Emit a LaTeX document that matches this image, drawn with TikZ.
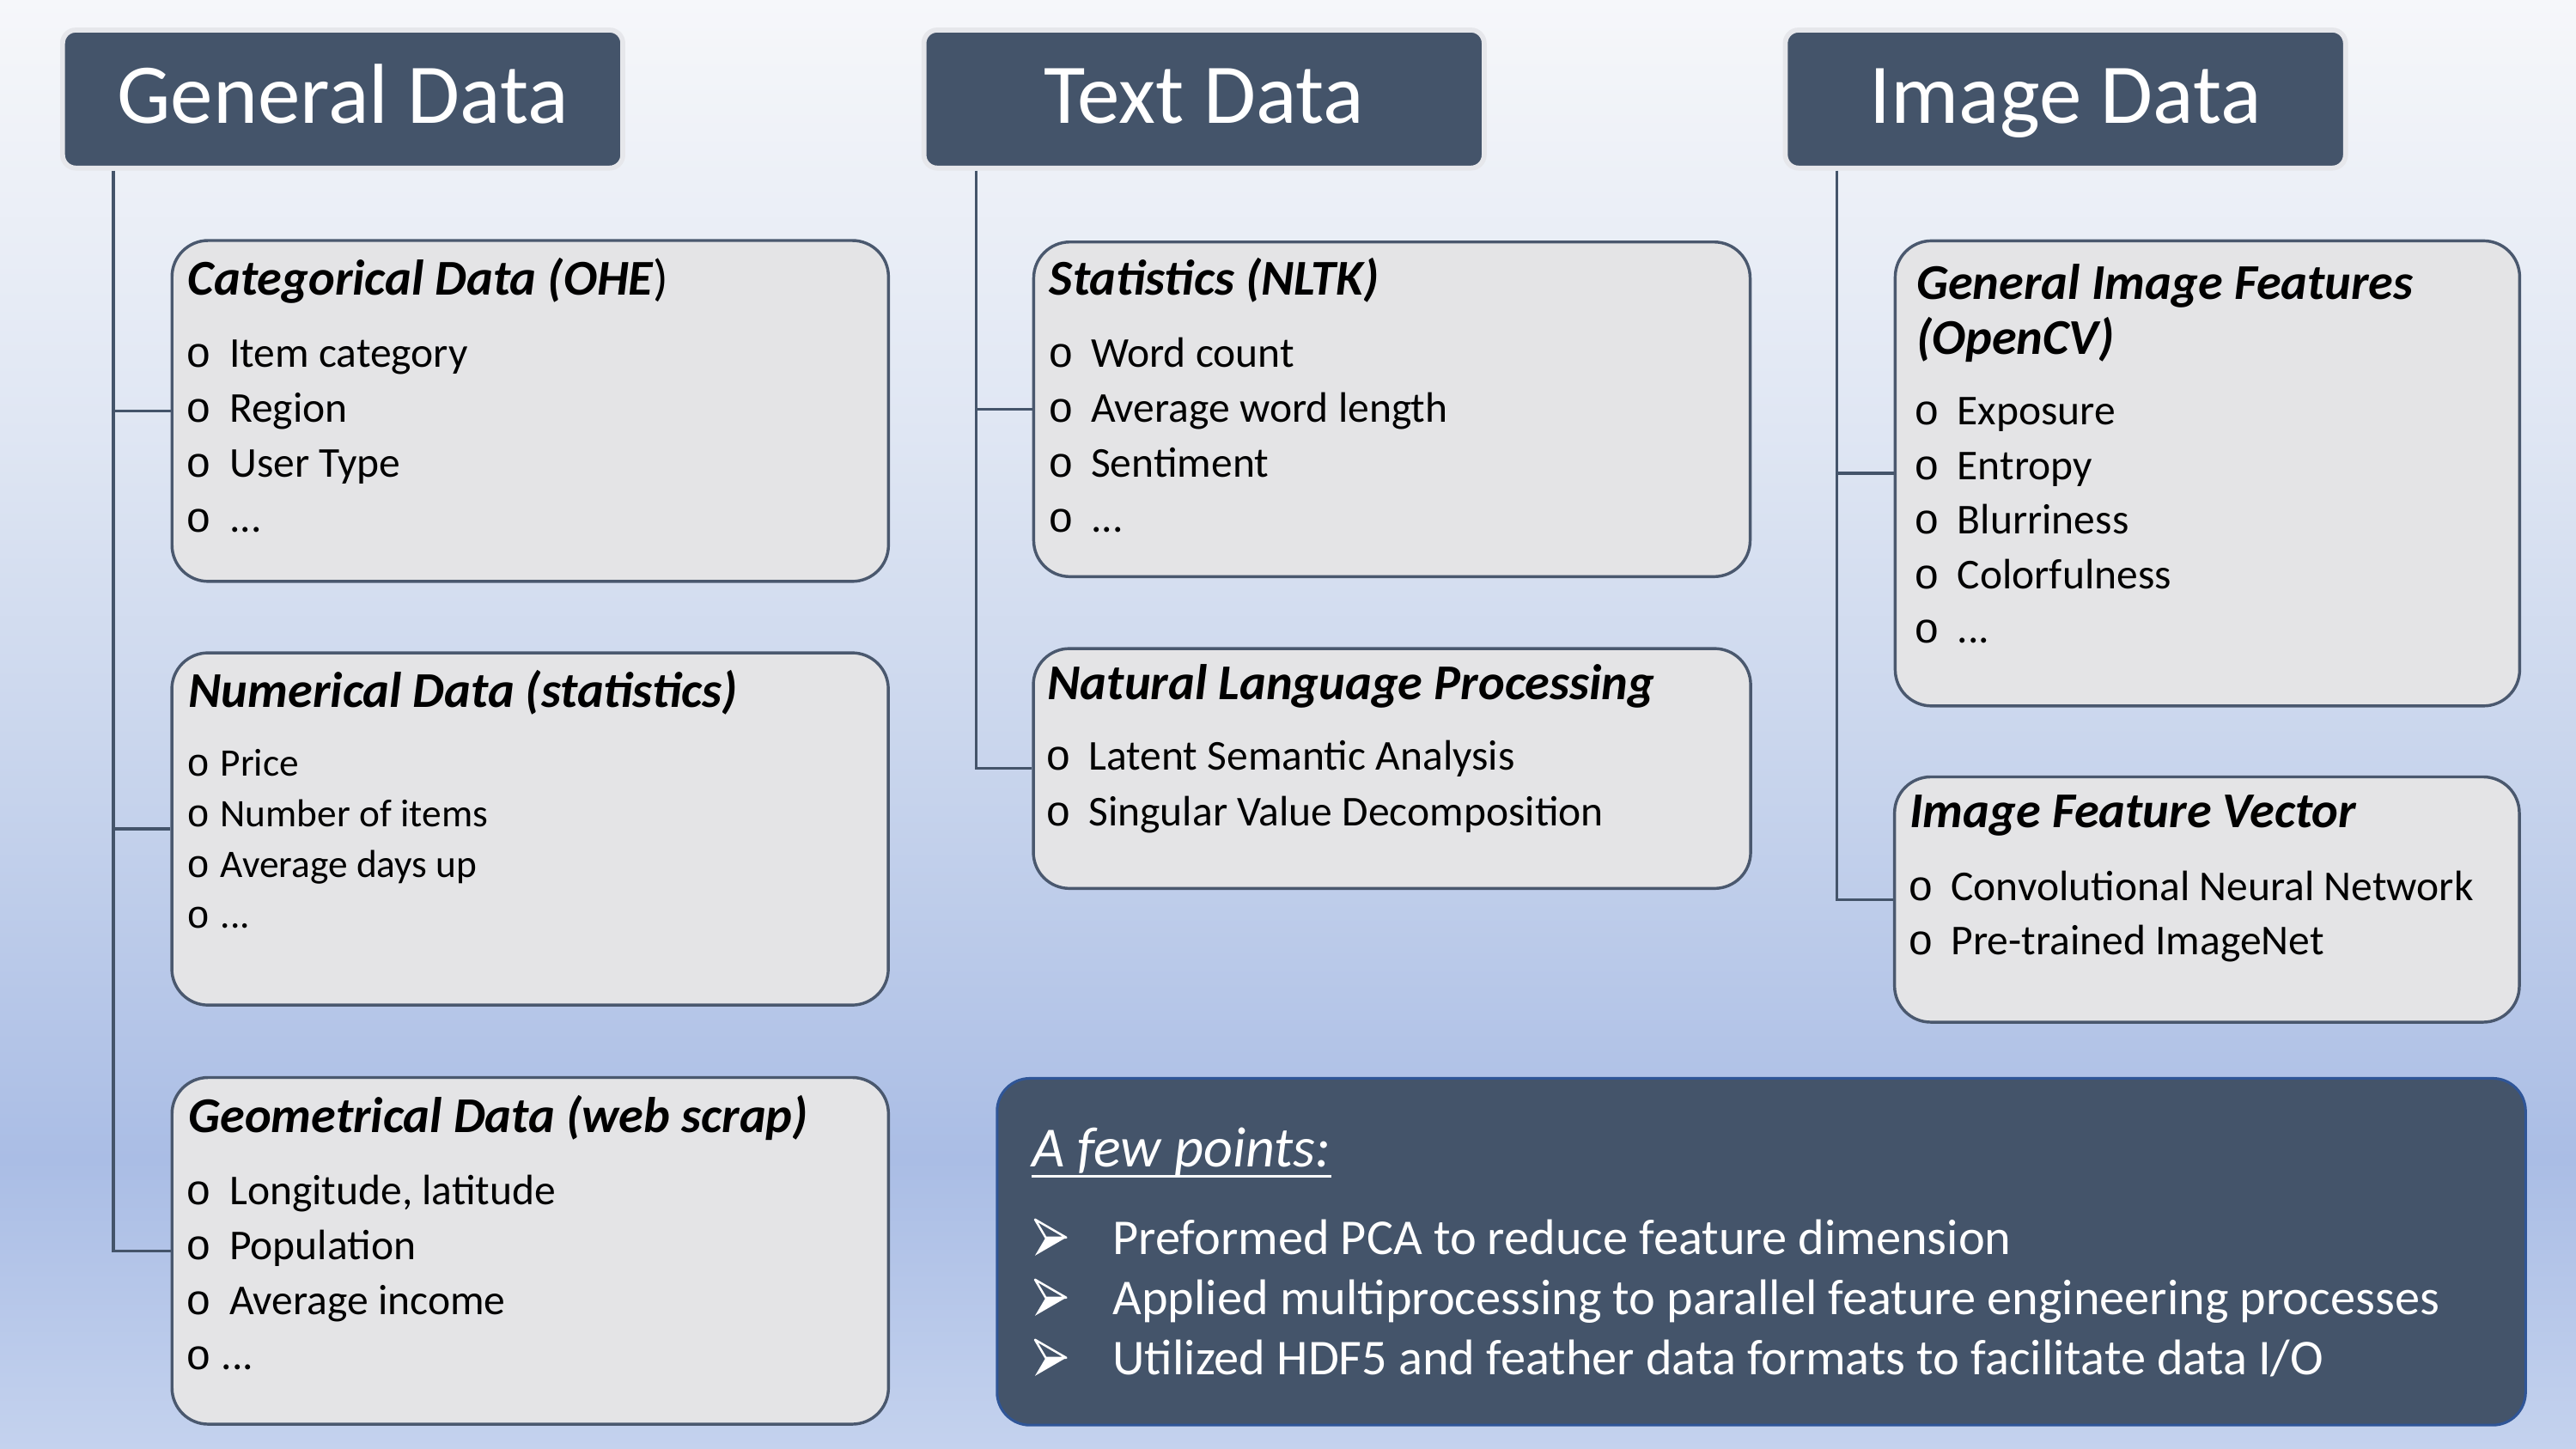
\documentclass[tikz,border=0pt]{standalone}
\usepackage{fontspec}
\setmainfont{Carlito}
\newfontfamily\bulletfont{Liberation Mono}
\usetikzlibrary{calc}

\definecolor{slate}{HTML}{44546A}
\definecolor{hdrrim}{HTML}{E6E7EB}
\definecolor{cardfill}{HTML}{E4E4E6}
\definecolor{cardrim}{HTML}{4A586E}
\definecolor{ptrim}{HTML}{2F5597}
\definecolor{bgtop}{HTML}{F6F7FA}
\definecolor{bgup}{HTML}{DFE6F3}
\definecolor{bgmid}{HTML}{C6D3EC}
\definecolor{bgdeep}{HTML}{AABDE5}
\definecolor{bgbot}{HTML}{C4D2EE}

% page background fade (25bp = bottom edge, 75bp = top edge)
\pgfdeclareverticalshading{bgfade}{100bp}{%
  color(0bp)=(bgbot); color(25bp)=(bgbot); color(35bp)=(bgdeep);
  color(47.5bp)=(bgmid); color(60bp)=(bgup); color(75bp)=(bgtop); color(100bp)=(bgtop)}

% three full stops as one token, so list loops do not read them as a range
\newcommand\moredots{...}

\tikzset{
  hdr/.style={rectangle, rounded corners=8pt, fill=slate, draw=hdrrim, line width=3pt,
    minimum width=341pt, minimum height=84pt, anchor=north west, inner sep=0pt,
    text=white, font=\fontsize{51.8}{62}\selectfont, text height=36pt, text depth=6.6pt},
  card/.style={rectangle, rounded corners=22pt, fill=cardfill, draw=cardrim,
    line width=1.8pt, anchor=north west, inner sep=0pt},
  ttl/.style={font=\fontsize{30.5}{36}\selectfont\bfseries\itshape, anchor=base west, inner sep=0pt},
  itm/.style={font=\fontsize{#1}{#1}\selectfont, anchor=base west, inner sep=0pt},
  itm/.default=25.8,
  bul/.style={font=\fontsize{#1}{#1}\bulletfont, anchor=base west, inner sep=0pt},
  bul/.default=25.8,
  conn/.style={draw=slate, line width=1.8pt},
  pttext/.style={font=\fontsize{30.5}{36}\selectfont, text=white, anchor=base west, inner sep=0pt},
  arrowhd/.pic={
    \fill[white] (6.5,0) -- (19,0) -- (0,11) -- cycle;
    \draw[white, line width=1.3pt, line join=round] (0,-11) -- (19,0) -- (6.5,0) -- cycle;
  }
}

% #1 name, #2 bullet x, #3 text x, #4 first baseline, #5 line step, #6 font size, #7 entries
\newcommand\cardlist[7]{%
  \foreach \txt [count=\k] in {#7} {
    \node[bul=#6] (#1-b\k) at ({#2},{#4+#5*(\k-1)}) {o};
    \node[itm=#6] (#1-\k) at ({#3},{#4+#5*(\k-1)}) {\txt};
  }}

\begin{document}
\begin{tikzpicture}[x=1pt,y=-1pt]
\useasboundingbox (0,0) rectangle (1568,882);
\shade[shading=bgfade] (0,0) rectangle (1568,882);

% column headers
\node[hdr] (gh) at (36.6,16.8) {General Data};
\node[hdr] (th) at (560.9,16.8) {Text Data};
\node[hdr] (ih) at (1085.2,16.8) {Image Data};

% feature cards
\node[card, minimum width=436.1pt, minimum height=207.5pt] (cat) at (103.8,145.5) {};
\node[card, minimum width=436.1pt, minimum height=214.4pt] (num) at (103.7,396.5) {};
\node[card, minimum width=436.1pt, minimum height=211pt]   (geo) at (103.8,655) {};
\node[card, minimum width=436.1pt, minimum height=203.7pt] (sta) at (628.3,146.4) {};
\node[card, minimum width=436.6pt, minimum height=146pt]   (nlp) at (628.1,393.9) {};
\node[card, minimum width=380.1pt, minimum height=283.1pt] (gif) at (1152.7,145.7) {};
\node[card, minimum width=380.3pt, minimum height=149.3pt] (ifv) at (1152.3,472) {};

% tree connectors
\coordinate (gx) at ([xshift=32.4pt]gh.south west);
\coordinate (tx) at ([xshift=33.3pt]th.south west);
\coordinate (ix) at ([xshift=33pt]ih.south west);
\draw[conn] (gx) |- (geo.west);
\draw[conn] (gx |- cat.west) -- (cat.west);
\draw[conn] (gx |- num.west) -- (num.west);
\draw[conn] (tx) |- (nlp.west);
\draw[conn] (tx |- sta.west) -- (sta.west);
\draw[conn] (ix) |- (ifv.west);
\draw[conn] (ix |- gif.west) -- (gif.west);

% card titles
\node[ttl] (cat-t) at (114.3,179.7) {Categorical Data (OHE\upshape\mdseries)};
\node[ttl] (num-t) at (114.6,430.5) {Numerical Data (statistics)};
\node[ttl] (geo-t) at (114.5,689.5) {Geometrical Data (web scrap)};
\node[ttl] (sta-t) at (638.7,179.7) {Statistics (NLTK)};
\node[ttl] (nlp-t) at (637.5,426.1) {Natural Language Processing};
\node[ttl] (gif-t1) at (1166.3,182.3) {General Image Features};
\node[ttl] (gif-t2) at (1166.3,215.7) {(OpenCV)};
\node[ttl] (ifv-t) at (1162.2,503.7) {Image Feature Vector};

% card entries
\cardlist{cat}{113}{139.5}{223.6}{33.5}{25.9}{Item category, Region, User Type, \moredots}
\cardlist{num}{113.5}{134}{472.3}{30.8}{23.7}{Price, Number of items, Average days up, \moredots}
\cardlist{geo}{113}{139.5}{733.3}{33.5}{25.9}{{Longitude, latitude}, Population, Average income}
\node[bul=25.9] (geo-b4) at (113,833.8) {o};
\node[itm=25.9] (geo-4) at (134.5,833.8) {\moredots};
\cardlist{sta}{637.7}{663.9}{223.6}{33.5}{25.9}{Word count, Average word length, Sentiment, \moredots}
\cardlist{nlp}{636.4}{662.5}{468.8}{34}{25.9}{Latent Semantic Analysis, Singular Value Decomposition}
\cardlist{gif}{1164.9}{1191.2}{258.8}{33.2}{25.9}{Exposure, Entropy, Blurriness, Colorfulness, \moredots}
\cardlist{ifv}{1161.3}{1187.4}{548.1}{33.1}{25.9}{Convolutional Neural Network, Pre-trained ImageNet}

% summary panel
\node[rectangle, rounded corners=20pt, fill=slate, draw=ptrim, line width=1.6pt,
  anchor=north west, inner sep=0pt, minimum width=930.4pt, minimum height=211.1pt]
  (pts) at (606.1,655.6) {};
\node[anchor=base west, inner sep=0pt, text=white,
  font=\fontsize{34.6}{41}\selectfont\itshape] (pts-t) at (627.8,710.2) {A few points:};
\draw[white, line width=1.8pt] ([yshift=-5.8pt]pts-t.base west) -- ([yshift=-5.8pt]pts-t.base east);
\pic at (630,753.3) {arrowhd};
\pic at (630,789.9) {arrowhd};
\pic at (630,826.5) {arrowhd};
\node[pttext] (pts-1) at (677.1,763.4) {Preformed PCA to reduce feature dimension};
\node[pttext] (pts-2) at (677.1,800) {Applied multiprocessing to parallel feature engineering processes};
\node[pttext] (pts-3) at (677.1,836.6) {Utilized HDF5 and feather data formats to facilitate data I/O};
\end{tikzpicture}
\end{document}
